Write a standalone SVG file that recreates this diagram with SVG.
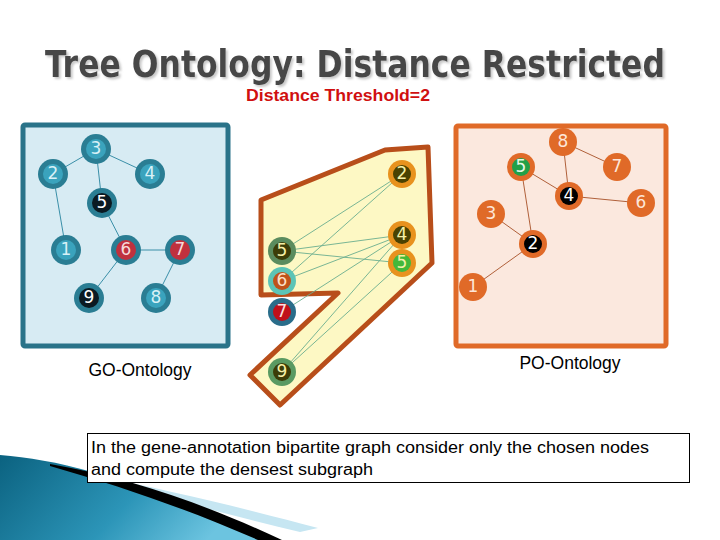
<svg xmlns="http://www.w3.org/2000/svg" width="720" height="540" viewBox="0 0 720 540">
<defs>
<linearGradient id="tealg" x1="0" y1="0" x2="1" y2="0.3">
<stop offset="0" stop-color="#0b6280"/>
<stop offset="0.6" stop-color="#2c95b8"/>
<stop offset="1" stop-color="#6cc4e0"/>
</linearGradient>
<filter id="shadow" x="-5%" y="-20%" width="110%" height="140%">
<feDropShadow dx="2" dy="2" stdDeviation="0.8" flood-color="#bbbbbb" flood-opacity="0.8"/>
</filter>
<style>
.go-ring{fill:#2a7d93}
.go-in{fill:#3aa3bd}
.num{font-family:"DejaVu Sans",sans-serif;font-size:17px;text-anchor:middle;dominant-baseline:central}
.go-t{fill:#d8f1f7}
.po-ring{fill:#e06a28}
.po-t{fill:#fde6d8}
.mid-t{fill:#f6f0a8}
.goe{stroke:#3a8fa8;stroke-width:1;fill:none}
.poe{stroke:#b0603a;stroke-width:1;fill:none}
.mide{stroke:#6aae8e;stroke-width:0.9;fill:none}
.lbl{font-family:"Liberation Sans",Arial,sans-serif;font-size:16px;fill:#000}
.olbl{font-family:"Liberation Sans",Arial,sans-serif;font-size:17.5px;fill:#000;text-anchor:middle}
</style>
</defs>
<rect width="720" height="540" fill="#ffffff"/>

<!-- Title -->
<g id="title">
<text x="355" y="77" filter="url(#shadow)" font-family="DejaVu Sans Condensed, DejaVu Sans, sans-serif" font-weight="bold" font-size="37" fill="#474747" text-anchor="middle" textLength="620" lengthAdjust="spacingAndGlyphs">Tree Ontology: Distance Restricted</text>
<text x="338" y="101" font-family="Liberation Sans, Arial, sans-serif" font-weight="bold" font-size="16" fill="#d01010" text-anchor="middle" textLength="184" lengthAdjust="spacingAndGlyphs">Distance Threshold=2</text>
</g>

<!-- GO box -->
<g id="go-box">
<rect x="23" y="125" width="205" height="221" rx="2" fill="#d7ebf3" stroke="#2a7389" stroke-width="5"/>
<text class="olbl" x="140" y="376">GO-Ontology</text>
</g>

<!-- PO box -->
<g id="po-box">
<rect x="456" y="126" width="210" height="220" rx="2" fill="#fbe8de" stroke="#e06a28" stroke-width="5"/>
<text class="olbl" x="570" y="369">PO-Ontology</text>
</g>

<!-- Middle region -->
<g id="mid-region">
<polygon points="261,200 385,150 428,147 432,263 280,405 250,375 338,293 261,295" fill="#fdf8c4" stroke="#b84e1a" stroke-width="5" stroke-linejoin="round"/>
</g>

<!-- Connectors -->
<g id="connectors">
<line class="goe" x1="96" y1="149" x2="53" y2="174"/>
<line class="goe" x1="96" y1="149" x2="150" y2="174"/>
<line class="goe" x1="96" y1="149" x2="102" y2="203"/>
<line class="goe" x1="53" y1="174" x2="66" y2="250"/>
<line class="goe" x1="102" y1="203" x2="126" y2="250"/>
<line class="goe" x1="126" y1="250" x2="180" y2="250"/>
<line class="goe" x1="126" y1="250" x2="89" y2="298"/>
<line class="goe" x1="180" y1="250" x2="156" y2="298"/>

<line class="poe" x1="563" y1="142" x2="617" y2="167"/>
<line class="poe" x1="563" y1="142" x2="569" y2="196"/>
<line class="poe" x1="521" y1="167" x2="569" y2="196"/>
<line class="poe" x1="569" y1="196" x2="641" y2="203"/>
<line class="poe" x1="521" y1="167" x2="533" y2="244"/>
<line class="poe" x1="491" y1="214" x2="533" y2="244"/>
<line class="poe" x1="533" y1="244" x2="473" y2="287"/>

<line class="mide" x1="282" y1="251" x2="402" y2="174"/>
<line class="mide" x1="282" y1="251" x2="402" y2="235"/>
<line class="mide" x1="282" y1="251" x2="402" y2="263"/>
<line class="mide" x1="282" y1="281" x2="402" y2="174"/>
<line class="mide" x1="282" y1="281" x2="402" y2="235"/>
<line class="mide" x1="282" y1="312" x2="402" y2="235"/>
<line class="mide" x1="282" y1="372" x2="402" y2="235"/>
<line class="mide" x1="282" y1="372" x2="402" y2="263"/>
</g>

<!-- GO nodes -->
<g id="go-3"><circle class="go-ring" cx="96" cy="149" r="15"/><circle class="go-in" cx="96" cy="149" r="10"/><text class="num go-t" x="96" y="148">3</text></g>
<g id="go-2"><circle class="go-ring" cx="53" cy="174" r="15"/><circle class="go-in" cx="53" cy="174" r="10"/><text class="num go-t" x="53" y="173">2</text></g>
<g id="go-4"><circle class="go-ring" cx="150" cy="174" r="15"/><circle class="go-in" cx="150" cy="174" r="10"/><text class="num go-t" x="150" y="173">4</text></g>
<g id="go-5"><circle class="go-ring" cx="102" cy="203" r="15"/><circle fill="#0b1a22" cx="102" cy="203" r="10"/><text class="num" fill="#ffffff" x="102" y="202">5</text></g>
<g id="go-1"><circle class="go-ring" cx="66" cy="250" r="15"/><circle class="go-in" cx="66" cy="250" r="10"/><text class="num go-t" x="66" y="249">1</text></g>
<g id="go-6"><circle class="go-ring" cx="126" cy="250" r="15"/><circle fill="#c0313e" cx="126" cy="250" r="10"/><text class="num" fill="#f6dada" x="126" y="249">6</text></g>
<g id="go-7"><circle class="go-ring" cx="180" cy="250" r="15"/><circle fill="#c0313e" cx="180" cy="250" r="10"/><text class="num" fill="#f6dada" x="180" y="249">7</text></g>
<g id="go-9"><circle class="go-ring" cx="89" cy="298" r="15"/><circle fill="#0b1a22" cx="89" cy="298" r="10"/><text class="num" fill="#ffffff" x="89" y="297">9</text></g>
<g id="go-8"><circle class="go-ring" cx="156" cy="298" r="15"/><circle class="go-in" cx="156" cy="298" r="10"/><text class="num go-t" x="156" y="297">8</text></g>

<!-- PO nodes -->
<g id="po-8"><circle class="po-ring" cx="563" cy="142" r="14"/><text class="num po-t" x="563" y="141">8</text></g>
<g id="po-5"><circle class="po-ring" cx="521" cy="167" r="14"/><circle fill="#21a048" cx="521" cy="167" r="9"/><text class="num" fill="#e8f8e8" x="521" y="166">5</text></g>
<g id="po-7"><circle class="po-ring" cx="617" cy="167" r="14"/><text class="num po-t" x="617" y="166">7</text></g>
<g id="po-4"><circle class="po-ring" cx="569" cy="196" r="14"/><circle fill="#000000" cx="569" cy="196" r="9"/><text class="num" fill="#ffffff" x="569" y="195">4</text></g>
<g id="po-6"><circle class="po-ring" cx="641" cy="203" r="14"/><text class="num po-t" x="641" y="202">6</text></g>
<g id="po-3"><circle class="po-ring" cx="491" cy="214" r="14"/><text class="num po-t" x="491" y="213">3</text></g>
<g id="po-2"><circle class="po-ring" cx="533" cy="244" r="14"/><circle fill="#000000" cx="533" cy="244" r="9"/><text class="num" fill="#ffffff" x="533" y="243">2</text></g>
<g id="po-1"><circle class="po-ring" cx="473" cy="287" r="14"/><text class="num po-t" x="473" y="286">1</text></g>

<!-- Middle nodes -->
<g id="mid-g5"><circle fill="#5b8c5e" cx="282" cy="251" r="14"/><circle fill="#3c3d08" cx="282" cy="251" r="9"/><text class="num mid-t" x="282" y="250">5</text></g>
<g id="mid-g6"><circle fill="#5cc4b6" cx="282" cy="281" r="14"/><circle fill="#c0521a" cx="282" cy="281" r="9"/><text class="num" fill="#fde0c8" x="282" y="280">6</text></g>
<g id="mid-g7"><circle fill="#2a6d8a" cx="282" cy="312" r="14"/><circle fill="#c0101a" cx="282" cy="312" r="9"/><text class="num" fill="#fbe0e0" x="282" y="311">7</text></g>
<g id="mid-g9"><circle fill="#5a9a62" cx="282" cy="372" r="14"/><circle fill="#3c3d08" cx="282" cy="372" r="9"/><text class="num mid-t" x="282" y="371">9</text></g>
<g id="mid-p2"><circle fill="#e8921e" cx="402" cy="174" r="14"/><circle fill="#4a4202" cx="402" cy="174" r="9"/><text class="num mid-t" x="402" y="173">2</text></g>
<g id="mid-p4"><circle fill="#e8921e" cx="402" cy="235" r="14"/><circle fill="#4a4202" cx="402" cy="235" r="9"/><text class="num mid-t" x="402" y="234">4</text></g>
<g id="mid-p5"><circle fill="#e8921e" cx="402" cy="263" r="14"/><circle fill="#44b83a" cx="402" cy="263" r="9"/><text class="num mid-t" x="402" y="262">5</text></g>

<!-- Decorative swoosh -->
<g id="swoosh">
<path d="M0,455 C70,460 160,488 262,540 L0,540 Z" fill="url(#tealg)"/>
<path d="M95,476 C170,490 250,510 318,528 L300,532 C230,515 160,497 95,479 Z" fill="#c6e6f2"/>
<path d="M50,464 C130,478 200,502 282,540 L258,540 C190,510 120,486 50,466 Z" fill="#000000"/>
</g>

<!-- Caption box -->
<g id="caption">
<rect x="87.5" y="433.5" width="602" height="49" fill="#ffffff" stroke="#000000" stroke-width="1"/>
<text class="lbl" x="91" y="453" font-size="17" textLength="558" lengthAdjust="spacingAndGlyphs">In the gene-annotation bipartite graph consider only the chosen nodes</text>
<text class="lbl" x="91" y="475" font-size="17" textLength="282" lengthAdjust="spacingAndGlyphs">and compute the densest subgraph</text>
</g>
</svg>
